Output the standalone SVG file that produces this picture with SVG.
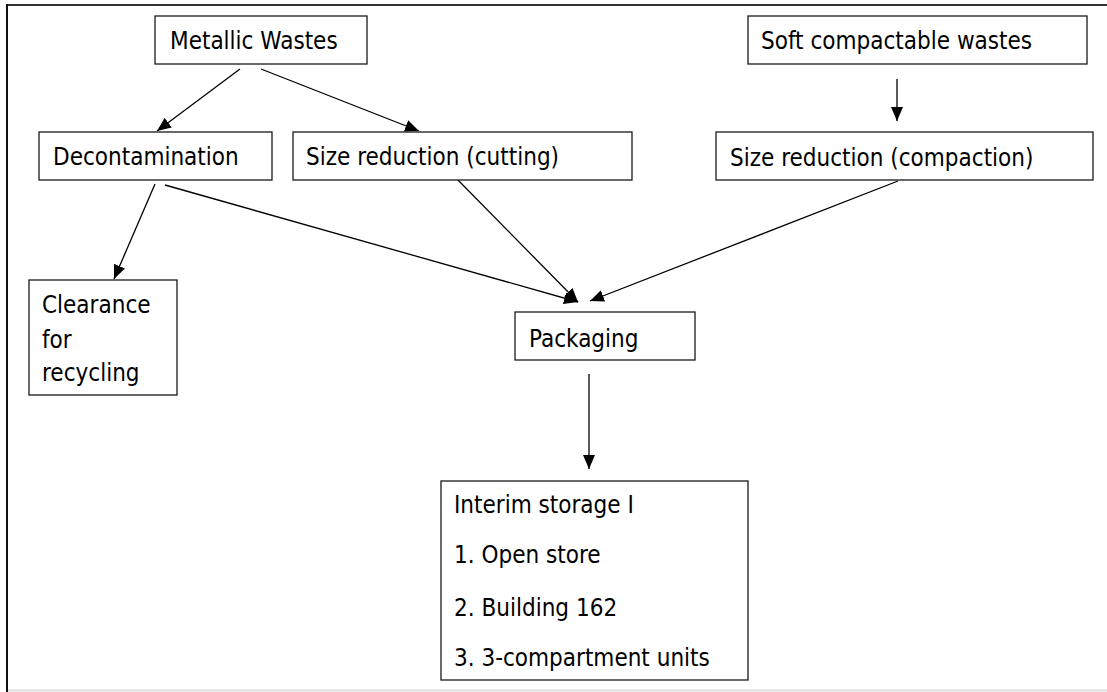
<svg xmlns="http://www.w3.org/2000/svg" width="1107" height="692" viewBox="0 0 1107 692">
<style>
.box{fill:#fff;stroke:#1a1a1a;stroke-width:1.3}
.t{font-family:"DejaVu Sans Condensed","DejaVu Sans",sans-serif;font-stretch:condensed;font-size:24px;fill:#000}
.c{stroke:#000;stroke-width:1.3;fill:none;marker-end:url(#ah)}
</style>
<defs>
<marker id="ah" viewBox="0 0 14 12" refX="14" refY="6" markerWidth="14" markerHeight="12" markerUnits="userSpaceOnUse" orient="auto">
<path d="M0,0 L14,6 L0,12 Z" fill="#000"/>
</marker>
</defs>
<rect width="1107" height="692" fill="#fff"/>
<g id="frame">
<line x1="6" y1="5" x2="1107" y2="5" stroke="#333" stroke-width="2"/>
<line x1="7" y1="4" x2="7" y2="692" stroke="#111" stroke-width="2"/>
<line x1="8" y1="690.5" x2="1107" y2="690.5" stroke="#ddd" stroke-width="2"/>
</g>
<g id="connectors">
<line class="c" x1="240" y1="69" x2="157" y2="131"/>
<line class="c" x1="261" y1="69" x2="419" y2="131"/>
<line class="c" x1="897" y1="79" x2="897" y2="121"/>
<line class="c" x1="155" y1="184" x2="114" y2="279"/>
<line class="c" x1="165" y1="185" x2="578" y2="302"/>
<line class="c" x1="452" y1="174" x2="578" y2="302"/>
<line class="c" x1="898" y1="181" x2="590" y2="301"/>
<line class="c" x1="589" y1="374" x2="589" y2="469"/>
</g>
<g id="metallic"><rect class="box" x="155" y="16" width="212" height="48"/><text class="t" x="170" y="49">Metallic Wastes</text></g>
<g id="soft"><rect class="box" x="748" y="16" width="339" height="48"/><text class="t" x="761" y="49">Soft compactable wastes</text></g>
<g id="decon"><rect class="box" x="39" y="132" width="233" height="48"/><text class="t" x="53" y="165">Decontamination</text></g>
<g id="cutting"><rect class="box" x="293" y="132" width="339" height="48"/><text class="t" x="306" y="165">Size reduction (cutting)</text></g>
<g id="compaction"><rect class="box" x="716" y="132" width="377" height="48"/><text class="t" x="730" y="166">Size reduction (compaction)</text></g>
<g id="clearance"><rect class="box" x="29" y="280" width="148" height="115"/><text class="t" x="42" y="313">Clearance</text><text class="t" x="42" y="348">for</text><text class="t" x="42" y="381">recycling</text></g>
<g id="packaging"><rect class="box" x="515" y="312" width="180" height="48"/><text class="t" x="529" y="347">Packaging</text></g>
<g id="interim"><rect class="box" x="441" y="481" width="307" height="199"/>
<text class="t" x="454" y="513">Interim storage I</text>
<text class="t" x="454" y="563">1. Open store</text>
<text class="t" x="454" y="616">2. Building 162</text>
<text class="t" x="454" y="666">3. 3-compartment units</text></g>
</svg>
